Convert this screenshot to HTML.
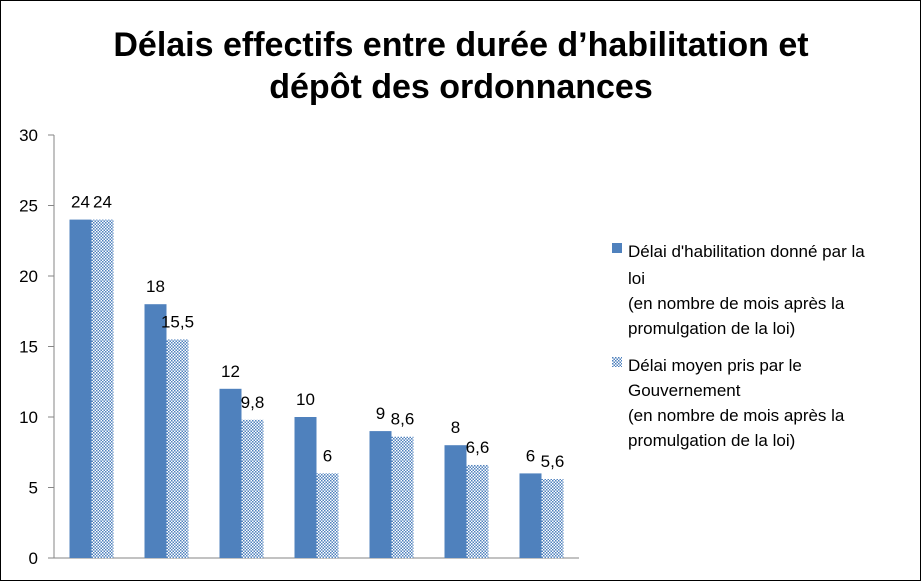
<!DOCTYPE html>
<html><head><meta charset="utf-8"><style>
html,body{margin:0;padding:0;background:#fff}
svg{display:block;font-family:"Liberation Sans",Arial,sans-serif}
</style></head><body>
<svg width="922" height="582" viewBox="0 0 922 582">
<defs>
<pattern id="dots" width="3" height="3" patternUnits="userSpaceOnUse">
<rect width="3" height="3" fill="#fff"/>
<rect x="0" y="0" width="1.5" height="1.5" fill="#4f81bd"/>
<rect x="1.5" y="1.5" width="1.5" height="1.5" fill="#4f81bd"/>
</pattern>
</defs>
<rect x="0.5" y="0.5" width="920" height="580" fill="#fff" stroke="#000"/>
<text x="461" y="56" text-anchor="middle" font-size="34" font-weight="bold" fill="#000">Délais effectifs entre durée d’habilitation et</text>
<text x="461" y="98" text-anchor="middle" font-size="34" font-weight="bold" fill="#000">dépôt des ordonnances</text>
<g id="axes"></g>
<g id="bars"></g>
<g>
<rect x="612" y="243" width="10" height="10" fill="#4f81bd"/>
<text font-size="17" fill="#000"><tspan x="628" y="257">Délai d'habilitation donné par la</tspan><tspan x="628" y="284">loi</tspan><tspan x="628" y="309">(en nombre de mois après la</tspan><tspan x="628" y="334">promulgation de la loi)</tspan></text>
<rect x="612" y="357" width="10" height="10" fill="url(#dots)"/>
<text font-size="17" fill="#000"><tspan x="628" y="371">Délai moyen pris par le</tspan><tspan x="628" y="396">Gouvernement</tspan><tspan x="628" y="421">(en nombre de mois après la</tspan><tspan x="628" y="446">promulgation de la loi)</tspan></text>
</g>
</svg>
<script>
const categories=["1","2","3","4","5","6","7"];
const habilitation=[24,18,12,10,9,8,6];
const gouvernement=[24,15.5,9.8,6,8.6,6.6,5.6];
const yTicks=[0,5,10,15,20,25,30];
const NS="http://www.w3.org/2000/svg";
const x0=54,groupW=75,y0=558,yTop=135,yMax=30,barW=22;
const y=v=>y0-(v/yMax)*(y0-yTop);
const gx=i=>x0+i*groupW+groupW/2;
function mk(tag,attrs,parent,txt){const e=document.createElementNS(NS,tag);for(const k in attrs)e.setAttribute(k,attrs[k]);if(txt!==undefined)e.textContent=txt;parent.appendChild(e);return e;}
const axes=document.getElementById('axes'),bars=document.getElementById('bars');
const ax=mk('line',{x1:x0,y1:y(0),x2:x0,y2:y(yMax),stroke:'#868686','stroke-width':1},axes);


const bx=mk('line',{x1:x0,y1:y(0),x2:x0+categories.length*groupW,y2:y(0),stroke:'#868686','stroke-width':1},axes);


yTicks.forEach(t=>{
 const tk=mk('line',{x1:x0-6,y1:y(t),x2:x0,y2:y(t),stroke:'#868686'},axes);
 
 
 const tl=mk('text',{x:x0-16,y:y(t)+6,'text-anchor':'end','font-size':17,fill:'#000'},axes,String(t));
 
 
});
const fmt=v=>String(v).replace('.',',');
categories.forEach((c,i)=>{
 const cx=gx(i);
 const v1=habilitation[i],v2=gouvernement[i];
 const b1=mk('rect',{x:cx-barW,y:y(v1),width:barW,height:y(0)-y(v1),fill:'#4f81bd'},bars);
 
 
 const b2=mk('rect',{x:cx,y:y(v2),width:barW,height:y(0)-y(v2),fill:'url(#dots)'},bars);
 
 
 const l1=mk('text',{x:cx-barW/2,y:y(v1)-12,'text-anchor':'middle','font-size':17,fill:'#000'},bars,fmt(v1));
 
 
 const l2=mk('text',{x:cx+barW/2,y:y(v2)-12,'text-anchor':'middle','font-size':17,fill:'#000'},bars,fmt(v2));
 
 
});
</script>
</body></html>
